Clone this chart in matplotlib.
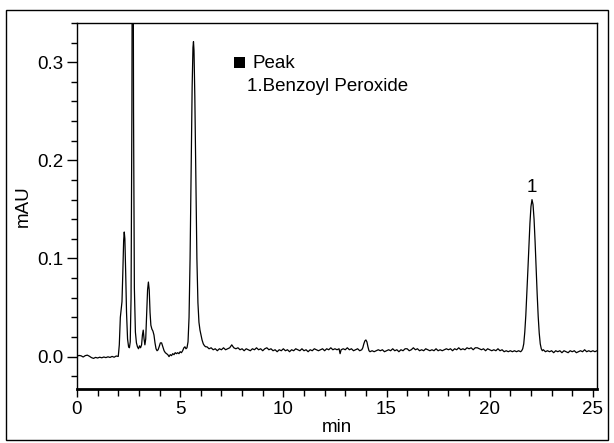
import matplotlib
matplotlib.use("Agg")
import matplotlib.pyplot as plt
from matplotlib.patches import Rectangle
from matplotlib.ticker import MultipleLocator

plt.rcParams['font.family'] = ['Liberation Sans', 'DejaVu Sans']

# ---- data (time in min, signal in mAU) ----
baseline_start = [
    (0.0, 0.0005), (0.1, 0.0012), (0.2, 0.0008), (0.3, -0.0004), (0.4, 0.0010),
    (0.5, 0.0015), (0.6, 0.0004), (0.7, -0.0010), (0.8, -0.0018), (0.9, -0.0008),
    (1.0, -0.0014), (1.1, -0.0006), (1.2, -0.0012), (1.3, -0.0004), (1.4, -0.0010),
    (1.5, -0.0002), (1.6, -0.0008), (1.7, 0.0002), (1.8, -0.0006), (1.9, 0.0006),
    (2.0, 0.0002),
]

early_peaks = [
    (2.05, 0.012), (2.10, 0.040), (2.15, 0.050), (2.18, 0.056), (2.22, 0.085),
    (2.26, 0.118), (2.29, 0.127), (2.32, 0.120), (2.36, 0.085), (2.40, 0.045),
    (2.45, 0.018), (2.50, 0.010), (2.54, 0.009), (2.58, 0.015), (2.62, 0.060),
    (2.66, 0.250), (2.69, 0.550), (2.71, 0.550), (2.74, 0.250), (2.78, 0.070),
    (2.83, 0.025), (2.88, 0.014), (2.93, 0.010), (2.98, 0.008), (3.03, 0.011),
    (3.08, 0.009), (3.13, 0.012), (3.17, 0.022), (3.21, 0.027), (3.25, 0.018),
    (3.29, 0.012), (3.33, 0.018), (3.37, 0.040), (3.42, 0.068), (3.46, 0.076),
    (3.50, 0.068), (3.54, 0.045), (3.58, 0.032), (3.63, 0.028), (3.68, 0.026),
    (3.73, 0.022), (3.78, 0.014), (3.83, 0.008), (3.88, 0.006), (3.93, 0.007),
    (3.98, 0.010), (4.04, 0.014), (4.10, 0.014), (4.16, 0.010), (4.22, 0.006),
    (4.28, 0.004), (4.34, 0.003), (4.40, 0.002), (4.46, 0.000), (4.52, 0.002),
    (4.58, 0.001), (4.64, 0.003), (4.70, 0.002), (4.76, 0.004), (4.82, 0.003),
    (4.88, 0.004), (4.94, 0.003), (5.00, 0.005), (5.06, 0.004), (5.12, 0.006),
    (5.18, 0.009), (5.23, 0.010), (5.28, 0.008), (5.33, 0.009),
]

main_peak = [
    (5.38, 0.015), (5.43, 0.040), (5.48, 0.100), (5.53, 0.190), (5.58, 0.275),
    (5.62, 0.315), (5.645, 0.321), (5.67, 0.312), (5.71, 0.265), (5.76, 0.180),
    (5.81, 0.100), (5.86, 0.055), (5.91, 0.035), (5.96, 0.027), (6.01, 0.022),
    (6.06, 0.017), (6.12, 0.013), (6.18, 0.011), (6.24, 0.010),
]

baseline_mid = [
    (6.3, 0.010), (6.4, 0.008), (6.5, 0.009), (6.6, 0.007), (6.7, 0.008),
    (6.8, 0.006), (6.9, 0.008), (7.0, 0.007), (7.1, 0.009), (7.2, 0.007),
    (7.3, 0.008), (7.4, 0.009), (7.5, 0.012), (7.6, 0.009), (7.7, 0.008),
    (7.8, 0.009), (7.9, 0.007), (8.0, 0.008), (8.1, 0.006), (8.2, 0.008),
    (8.3, 0.007), (8.4, 0.006), (8.5, 0.008), (8.6, 0.007), (8.7, 0.009),
    (8.8, 0.007), (8.9, 0.008), (9.0, 0.006), (9.1, 0.008), (9.2, 0.009),
    (9.3, 0.007), (9.4, 0.008), (9.5, 0.006), (9.6, 0.007), (9.7, 0.005),
    (9.8, 0.007), (9.9, 0.006), (10.0, 0.008), (10.1, 0.006), (10.2, 0.007),
    (10.3, 0.005), (10.4, 0.007), (10.5, 0.006), (10.6, 0.008), (10.7, 0.007),
    (10.8, 0.006), (10.9, 0.008), (11.0, 0.006), (11.1, 0.007), (11.2, 0.005),
    (11.3, 0.007), (11.4, 0.006), (11.5, 0.008), (11.6, 0.007), (11.7, 0.006),
    (11.8, 0.007), (11.9, 0.008), (12.0, 0.006), (12.1, 0.008), (12.2, 0.007),
    (12.3, 0.009), (12.4, 0.007), (12.5, 0.008), (12.6, 0.007), (12.7, 0.008),
    (12.75, 0.003), (12.8, 0.007), (12.9, 0.008), (13.0, 0.007), (13.1, 0.009),
    (13.2, 0.007), (13.3, 0.008), (13.4, 0.006), (13.5, 0.007), (13.6, 0.008),
    (13.7, 0.006), (13.8, 0.007), (13.85, 0.009), (13.9, 0.013), (13.95, 0.016),
    (14.0, 0.017), (14.05, 0.015), (14.1, 0.010), (14.15, 0.006), (14.2, 0.005),
    (14.3, 0.006), (14.4, 0.005), (14.5, 0.006), (14.6, 0.007), (14.7, 0.006),
    (14.8, 0.007), (14.9, 0.005), (15.0, 0.006), (15.1, 0.007), (15.2, 0.006),
    (15.3, 0.008), (15.4, 0.006), (15.5, 0.007), (15.6, 0.005), (15.7, 0.007),
    (15.8, 0.006), (15.9, 0.008), (16.0, 0.008), (16.1, 0.006), (16.2, 0.007),
    (16.3, 0.009), (16.4, 0.007), (16.5, 0.008), (16.6, 0.006), (16.7, 0.007),
    (16.8, 0.006), (16.9, 0.008), (17.0, 0.007), (17.1, 0.006), (17.2, 0.007),
    (17.3, 0.006), (17.4, 0.008), (17.5, 0.006), (17.6, 0.007), (17.7, 0.006),
    (17.8, 0.007), (17.9, 0.008), (18.0, 0.007), (18.1, 0.008), (18.2, 0.006),
    (18.3, 0.008), (18.4, 0.007), (18.5, 0.009), (18.6, 0.007), (18.7, 0.008),
    (18.8, 0.007), (18.9, 0.009), (19.0, 0.008), (19.1, 0.009), (19.2, 0.007),
    (19.3, 0.009), (19.4, 0.009), (19.5, 0.008), (19.6, 0.007), (19.7, 0.008),
    (19.8, 0.006), (19.9, 0.008), (20.0, 0.007), (20.1, 0.006), (20.2, 0.007),
    (20.3, 0.006), (20.4, 0.008), (20.5, 0.006), (20.6, 0.007), (20.7, 0.005),
    (20.8, 0.006), (20.9, 0.005), (21.0, 0.006), (21.1, 0.005), (21.2, 0.006),
    (21.3, 0.005), (21.4, 0.006), (21.5, 0.005), (21.55, 0.006), (21.6, 0.008),
]

peak_1 = [
    (21.65, 0.013), (21.70, 0.025), (21.75, 0.042), (21.80, 0.064), (21.85, 0.088),
    (21.90, 0.113), (21.95, 0.136), (22.00, 0.153), (22.05, 0.160), (22.10, 0.155),
    (22.15, 0.140), (22.20, 0.117), (22.25, 0.090), (22.30, 0.064), (22.35, 0.041),
    (22.40, 0.024), (22.45, 0.013), (22.50, 0.008), (22.55, 0.006),
]

baseline_end = [
    (22.6, 0.007), (22.7, 0.005), (22.8, 0.006), (22.9, 0.005), (23.0, 0.006),
    (23.1, 0.004), (23.2, 0.006), (23.3, 0.005), (23.4, 0.006), (23.5, 0.004),
    (23.6, 0.006), (23.7, 0.005), (23.8, 0.004), (23.9, 0.006), (24.0, 0.005),
    (24.1, 0.006), (24.2, 0.004), (24.3, 0.005), (24.4, 0.006), (24.5, 0.005),
    (24.6, 0.007), (24.7, 0.005), (24.8, 0.006), (24.9, 0.005), (25.0, 0.006),
    (25.1, 0.005), (25.2, 0.006),
]

peak_labels = ["1"]
peak_label_times = [22.05]
peak_label_heights = [0.160]
legend_title = "Peak"
legend_items = ["1.Benzoyl Peroxide"]

x_ticks = [0, 5, 10, 15, 20, 25]
y_ticks = [0.0, 0.1, 0.2, 0.3]

# ---- figure ----
W, H = 614, 443
FS = 13.5
fig = plt.figure(figsize=(W / 100, H / 100), dpi=100)
fig.patch.set_facecolor("white")

# outer frame
fig.patches.append(Rectangle((6 / W, 1 - 440 / H), 602 / W, 430 / H,
                             transform=fig.transFigure, fill=False,
                             edgecolor="black", linewidth=1.0))

ax = fig.add_axes([77 / W, 1 - 389 / H, 520 / W, 366 / H])

trace = baseline_start + early_peaks + main_peak + baseline_mid + peak_1 + baseline_end
t = [p[0] for p in trace]
s = [p[1] for p in trace]
ax.plot(t, s, color="black", linewidth=0.9)

ax.set_xlim(0, 25.2)
ax.set_ylim(-0.033, 0.34)

ax.xaxis.set_minor_locator(MultipleLocator(1))
ax.yaxis.set_minor_locator(MultipleLocator(0.02))
ax.set_xticks(x_ticks)
ax.set_xticklabels([str(v) for v in x_ticks])
ax.set_yticks(y_ticks)
ax.set_yticklabels([f"{v:.1f}" for v in y_ticks])

ax.tick_params(axis="y", which="major", direction="out", length=7, width=1,
               labelsize=FS, pad=3)
ax.tick_params(axis="y", which="minor", direction="out", length=4, width=1)
ax.tick_params(axis="x", which="major", direction="out", length=6, width=1,
               labelsize=FS, pad=3)
ax.tick_params(axis="x", which="minor", direction="out", length=5, width=1)

for side in ["top", "right", "left"]:
    ax.spines[side].set_linewidth(1.0)
ax.spines["bottom"].set_linewidth(2.0)

ax.set_xlabel("min", fontsize=FS, labelpad=0)
ax.set_ylabel("mAU", fontsize=FS, labelpad=4)

for lab, tx, hy in zip(peak_labels, peak_label_times, peak_label_heights):
    ax.text(tx, hy + 0.004, lab, ha="center", va="bottom", fontsize=FS)

# legend-like annotation
fig.patches.append(Rectangle((234 / W, 1 - 68 / H), 11 / W, 11 / H,
                             transform=fig.transFigure, facecolor="black",
                             edgecolor="none"))
fig.text(253 / W, 1 - 68 / H, legend_title, ha="left", va="baseline", fontsize=FS)
for i, item in enumerate(legend_items):
    fig.text(247 / W, 1 - (91 + 23 * i) / H, item, ha="left", va="baseline", fontsize=FS)

fig.savefig("out.png", dpi=100)
